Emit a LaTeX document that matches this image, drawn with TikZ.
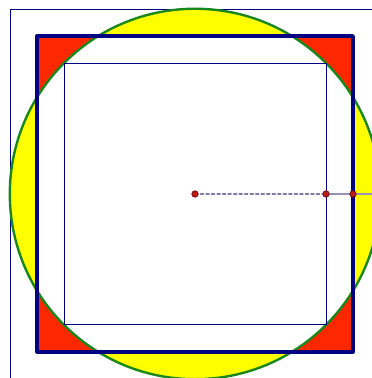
\documentclass[tikz,border=0pt]{standalone}
\usepackage{amsmath, amssymb}
\usepackage{tikz}
\usetikzlibrary{calc}
\usepackage{tkz-euclide}
\definecolor{navy}{RGB}{0,0,128}
\definecolor{ringgreen}{RGB}{25,135,25}
\definecolor{cornerred}{RGB}{255,40,0}
\definecolor{capyellow}{RGB}{255,255,0}
\definecolor{dotred}{RGB}{190,25,25}
\definecolor{raygray}{RGB}{125,120,165}

\begin{document}
\begin{tikzpicture}[scale=2.5]
      % 1. 圖框與裁切
      \useasboundingbox (-1.489,-1.405) rectangle (1.351,1.481);
      \clip (-1.489,-1.405) rectangle (1.351,1.481);

      % 2. 圓心 O, 內正方形邊上 A, 外正方形邊上 B, 圓上 E
      \tkzDefPoint(0,0){O}
      \tkzDefPoint(1,0){A}
      \tkzDefPoint(1.206,0){B}
      \tkzDefPoint(1.4142,0){E}

      % 3. 外正方形與內正方形的頂點
      \tkzDefPoint(-1.206,-1.206){S_1}
      \tkzDefPoint(1.206,-1.206){S_2}
      \tkzDefPoint(1.206,1.206){S_3}
      \tkzDefPoint(-1.206,1.206){S_4}
      \tkzDefPoint(-1,-1){T_1}
      \tkzDefPoint(1,-1){T_2}
      \tkzDefPoint(1,1){T_3}
      \tkzDefPoint(-1,1){T_4}

      % 4. 座標框線
      \tkzDefPoint(-1.412,-1.42){F_1}
      \tkzDefPoint(-1.412,1.405){F_2}
      \tkzDefPoint(1.36,1.405){F_3}
      \draw[navy, line width=0.5pt] (F_1) -- (F_2) -- (F_3);

      % 5. 著色: 圓外的角為紅, 正方形外的弓形為黃
      \fill[capyellow] (O) circle (1.4142);
      \fill[cornerred] (S_1) rectangle (S_3);
      \begin{scope}
        \clip (O) circle (1.4142);
        \fill[white] (S_1) rectangle (S_3);
      \end{scope}

      % 6. 圓與兩個正方形
      \tkzDrawCircle[ringgreen, line width=1.3pt](O,E)
      \tkzDrawPolygon[navy, line width=1.9pt](S_1,S_2,S_3,S_4)
      \tkzDrawPolygon[navy, line width=0.5pt](T_1,T_2,T_3,T_4)

      % 7. 半徑
      \tkzDrawSegments[raygray, line width=0.8pt, dash pattern=on 1.6pt off 1.4pt](O,A)
      \tkzDrawSegments[raygray!80, line width=0.8pt](A,E)
      %\tkzLabelPoints[below](O,A,B)
      \tkzDrawPoints[size=3.5, color=dotred!60!black, fill=dotred](O,A,B)
    \end{tikzpicture}
\end{document}
